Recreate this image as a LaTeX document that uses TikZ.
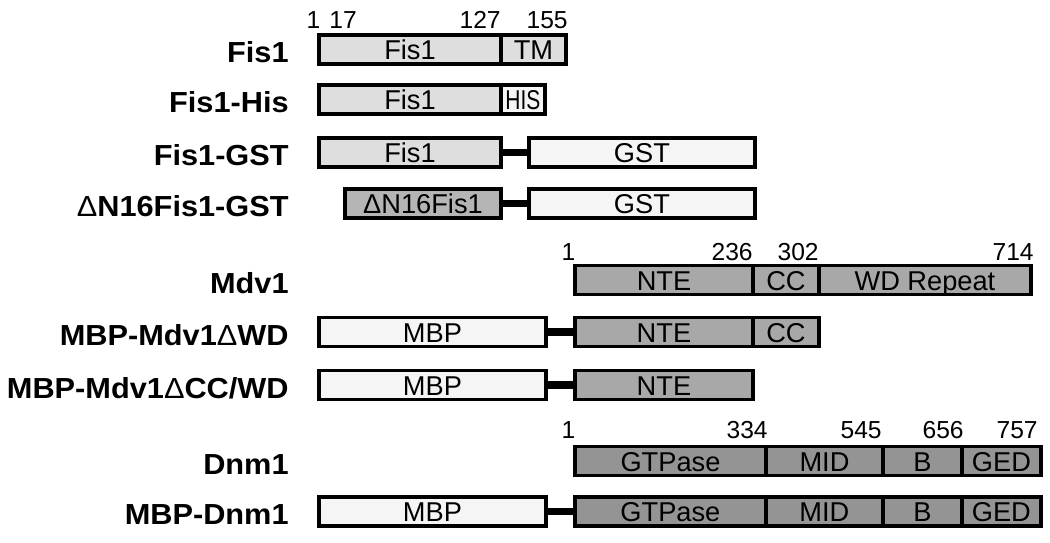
\documentclass[tikz,border=0pt]{standalone}
\usepackage{fontspec}
\setmainfont{Liberation Sans}
\newfontfamily\lblfont[FakeStretch=1.06]{Liberation Sans}
\usepackage{tikz}
\usetikzlibrary{positioning}

\definecolor{fisgray}{gray}{0.87}
\definecolor{tagwhite}{gray}{0.96}
\definecolor{delgray}{gray}{0.71}
\definecolor{mdvgray}{gray}{0.66}
\definecolor{dnmgray}{gray}{0.58}

\tikzset{
  dom/.style={draw, line width=2.2pt, minimum height=0.58cm, inner sep=0pt, outer sep=0pt,
    text height=11.8pt, text depth=0pt, font=\fontsize{15.5}{16}\selectfont},
  lbl/.style={anchor=base east, inner sep=0pt, font=\fontsize{16.5}{17}\selectfont\lblfont\bfseries},
  num/.style={anchor=base east, inner sep=0pt, font=\fontsize{14}{15}\selectfont},
  linker/.style={line width=4.5pt}
}

\begin{document}
\begin{tikzpicture}[x=0.02cm, y=-0.02cm]
  \useasboundingbox (0,0) rectangle (1050,542);

  % Fis1
  \node[lbl] (lab_fis1) at (289,62.5) {Fis1};
  \node[num, anchor=base] (n_fis1_1) at (313.5,28) {1};
  \node[num, anchor=base] (n_fis1_17) at (343,28) {17};
  \node[num] (n_fis1_127) at (501,28) {127};
  \node[num] (n_fis1_155) at (568,28) {155};
  \node[dom, fill=fisgray, minimum width=3.64cm, anchor=west] (fis1_core) at (319,49.5) {Fis1};
  \node[dom, fill=fisgray, minimum width=1.30cm, right=0pt of fis1_core] (fis1_tm) {TM};

  % Fis1-His
  \node[lbl] (lab_his) at (289,112.5) {Fis1-His};
  \node[dom, fill=fisgray, minimum width=3.64cm, anchor=west] (his_core) at (319,99.5) {Fis1};
  \node[dom, fill=tagwhite, minimum width=0.88cm, right=0pt of his_core] (his_tag) {\scalebox{0.77}[1]{HIS}};

  % Fis1-GST
  \node[lbl] (lab_gst) at (289,165.5) {Fis1-GST};
  \node[dom, fill=fisgray, minimum width=3.64cm, anchor=west] (gst_core) at (319,152.5) {Fis1};
  \node[dom, fill=tagwhite, minimum width=4.52cm, right=0.56cm of gst_core] (gst_tag) {GST};
  \draw[linker] (gst_core) -- (gst_tag);

  % DeltaN16Fis1-GST
  \node[lbl] (lab_dn16) at (289,216.5) {{\mdseries Δ}N16Fis1-GST};
  \node[dom, fill=delgray, minimum width=3.12cm, anchor=west] (dn16_core) at (345,203.5) {ΔN16Fis1};
  \node[dom, fill=tagwhite, minimum width=4.52cm, right=0.56cm of dn16_core] (dn16_tag) {GST};
  \draw[linker] (dn16_core) -- (dn16_tag);

  % Mdv1
  \node[lbl] (lab_mdv1) at (289,293) {Mdv1};
  \node[num, anchor=base] (n_mdv1_1) at (568.5,260) {1};
  \node[num] (n_mdv1_236) at (753,260) {236};
  \node[num] (n_mdv1_302) at (819,260) {302};
  \node[num] (n_mdv1_714) at (1034,260) {714};
  \node[dom, fill=mdvgray, minimum width=3.56cm, anchor=west] (mdv1_nte) at (575,280) {NTE};
  \node[dom, fill=mdvgray, minimum width=1.32cm, right=0pt of mdv1_nte] (mdv1_cc) {CC};
  \node[dom, fill=mdvgray, minimum width=4.24cm, right=0pt of mdv1_cc] (mdv1_wd) {WD Repeat};

  % MBP-Mdv1 delta WD
  \node[lbl] (lab_dwd) at (289,345) {MBP-Mdv1{\mdseries Δ}WD};
  \node[dom, fill=tagwhite, minimum width=4.54cm, anchor=west] (dwd_mbp) at (319,332) {MBP};
  \node[dom, fill=mdvgray, minimum width=3.56cm, right=0.58cm of dwd_mbp] (dwd_nte) {NTE};
  \node[dom, fill=mdvgray, minimum width=1.32cm, right=0pt of dwd_nte] (dwd_cc) {CC};
  \draw[linker] (dwd_mbp) -- (dwd_nte);

  % MBP-Mdv1 delta CC/WD
  \node[lbl] (lab_dcc) at (289,398) {MBP-Mdv1{\mdseries Δ}CC/WD};
  \node[dom, fill=tagwhite, minimum width=4.54cm, anchor=west] (dcc_mbp) at (319,385) {MBP};
  \node[dom, fill=mdvgray, minimum width=3.56cm, right=0.58cm of dcc_mbp] (dcc_nte) {NTE};
  \draw[linker] (dcc_mbp) -- (dcc_nte);

  % Dnm1
  \node[lbl] (lab_dnm1) at (289,474) {Dnm1};
  \node[num, anchor=base] (n_dnm1_1) at (568.5,438) {1};
  \node[num] (n_dnm1_334) at (768,438) {334};
  \node[num] (n_dnm1_545) at (882,438) {545};
  \node[num] (n_dnm1_656) at (964,438) {656};
  \node[num] (n_dnm1_757) at (1038,438) {757};
  \node[dom, fill=dnmgray, minimum width=3.82cm, anchor=west] (dnm1_gtp) at (575,461) {GTPase};
  \node[dom, fill=dnmgray, minimum width=2.34cm, right=0pt of dnm1_gtp] (dnm1_mid) {MID};
  \node[dom, fill=dnmgray, minimum width=1.58cm, right=0pt of dnm1_mid] (dnm1_b) {B};
  \node[dom, fill=dnmgray, minimum width=1.58cm, right=0pt of dnm1_b] (dnm1_ged) {GED};

  % MBP-Dnm1
  \node[lbl] (lab_mbpdnm) at (289,524.5) {MBP-Dnm1};
  \node[dom, fill=tagwhite, minimum width=4.54cm, anchor=west] (mdn_mbp) at (319,511.5) {MBP};
  \node[dom, fill=dnmgray, minimum width=3.82cm, right=0.58cm of mdn_mbp] (mdn_gtp) {GTPase};
  \node[dom, fill=dnmgray, minimum width=2.34cm, right=0pt of mdn_gtp] (mdn_mid) {MID};
  \node[dom, fill=dnmgray, minimum width=1.58cm, right=0pt of mdn_mid] (mdn_b) {B};
  \node[dom, fill=dnmgray, minimum width=1.58cm, right=0pt of mdn_b] (mdn_ged) {GED};
  \draw[linker] (mdn_mbp) -- (mdn_gtp);
\end{tikzpicture}
\end{document}
